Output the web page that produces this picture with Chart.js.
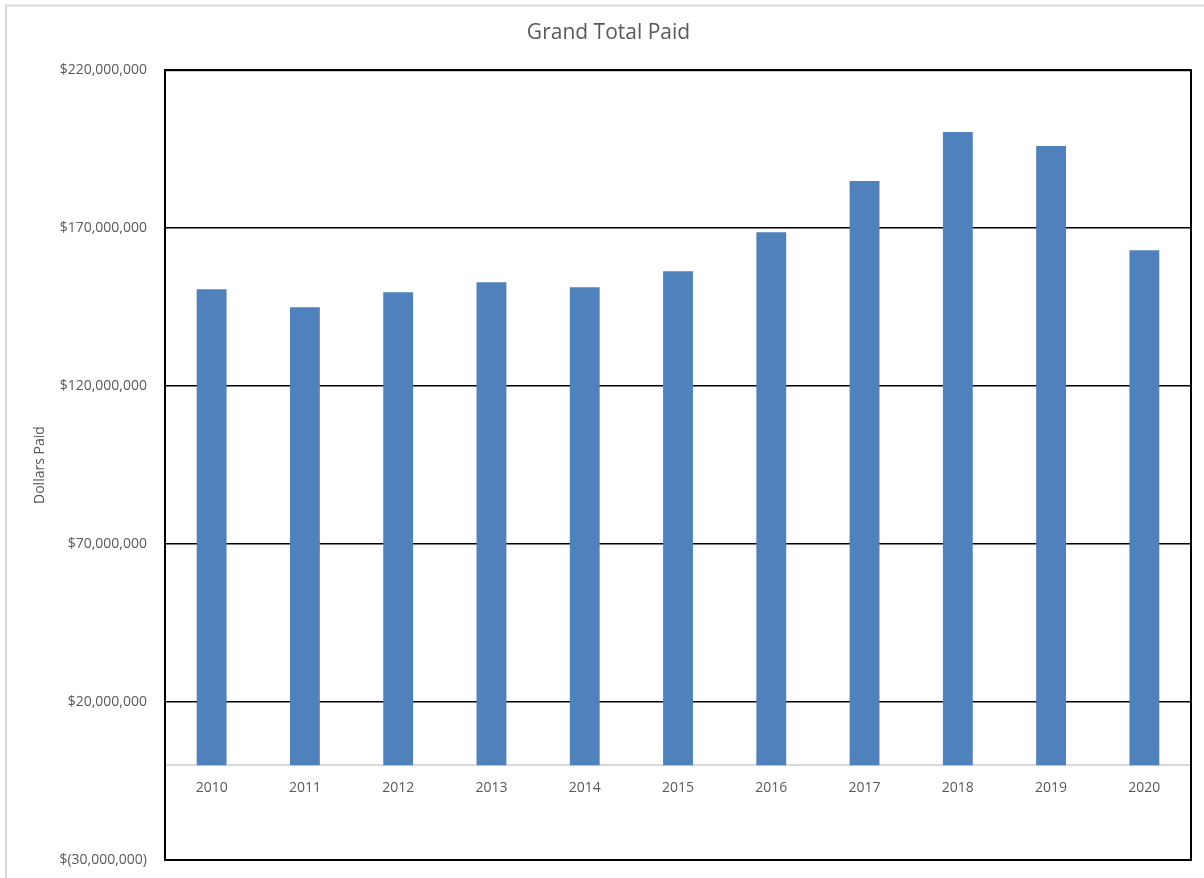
<!DOCTYPE html>
<html>
<head>
<meta charset="utf-8">
<title>Grand Total Paid</title>
<script src="https://cdn.jsdelivr.net/npm/chart.js@4"></script>
<style>
  html, body { margin: 0; padding: 0; background: #fff; }
</style>
</head>
<body>
<canvas id="paidChart" width="1204" height="878"></canvas>
<script>
// values
var years = ["2010", "2011", "2012", "2013", "2014", "2015", "2016", "2017", "2018", "2019", "2020"];
var dollarsPaid = [150700000, 145000000, 149700000, 152900000, 151300000, 156400000,
                   168700000, 184900000, 200400000, 196000000, 163000000];
var yMin = -30000000;
var yMax = 220000000;
var yStep = 50000000;

var textColor = "#595959";
var fontFamily = "'Open Sans', 'Liberation Sans', sans-serif";

function money(v) {
  var s = Math.abs(v).toLocaleString("en-US");
  return v < 0 ? "$(" + s + ")" : "$" + s;
}

// light grey chart border (left + top) and black plot frame
var framePlugin = {
  id: "frame",
  beforeDraw: function (chart) {
    var ctx = chart.ctx;
    ctx.save();
    ctx.strokeStyle = "#d9d9d9";
    ctx.lineWidth = 2;
    ctx.beginPath();
    ctx.moveTo(6, chart.height);
    ctx.lineTo(6, 5.5);
    ctx.lineTo(chart.width, 5.5);
    ctx.stroke();
    ctx.restore();
  },
  beforeDatasetsDraw: function (chart) {
    var a = chart.chartArea;
    var ctx = chart.ctx;
    ctx.save();
    ctx.strokeStyle = "#000";
    ctx.lineWidth = 2;
    ctx.strokeRect(a.left, a.top, a.right - a.left, a.bottom - a.top);
    ctx.restore();
  }
};

var ctx = document.getElementById("paidChart");
new Chart(ctx, {
  type: "bar",
  data: {
    labels: years,
    datasets: [
      {
        label: "Dollars Paid",
        data: dollarsPaid,
        backgroundColor: "#4f81bd",
        borderWidth: 0,
        barPercentage: 0.32,
        categoryPercentage: 1.0,
      },
    ],
  },
  options: {
    responsive: false,
    animation: false,
    layout: {
      padding: { left: 26, top: 0, right: 13, bottom: 18 },
    },
    plugins: {
      legend: { display: false },
      tooltip: { enabled: false },
      title: {
        display: true,
        text: "Grand Total Paid",
        color: textColor,
        font: { family: fontFamily, size: 21, weight: "normal" },
        padding: { top: 20, bottom: 25 },
      },
    },
    scales: {
      x: {
        // axis sits on the zero line, like the Excel original
        position: { y: 0 },
        afterFit: function (scale) {
          scale.height = 0;
          scale.paddingTop = 0;
          scale.paddingBottom = 0;
        },
        grid: { display: false, drawTicks: false },
        border: { display: true, color: "#d9d9d9", width: 2 },
        ticks: {
          color: textColor,
          font: { family: fontFamily, size: 14 },
          padding: 14,
          maxRotation: 0,
        },
      },
      y: {
        min: yMin,
        max: yMax,
        afterFit: function (scale) {
          scale.width = 139;
          scale.paddingBottom = 0;
        },
        ticks: {
          stepSize: yStep,
          color: textColor,
          font: { family: fontFamily, size: 14 },
          padding: 18,
          callback: function (value) {
            return money(value);
          },
        },
        grid: { color: "#000", lineWidth: 1.5, drawTicks: false },
        border: { display: true, color: "#000", width: 2 },
        title: {
          display: true,
          text: "Dollars Paid",
          color: textColor,
          font: { family: fontFamily, size: 14 },
          padding: { top: 6, bottom: 0 },
        },
      },
    },
  },
  plugins: [framePlugin],
});
</script>
</body>
</html>
